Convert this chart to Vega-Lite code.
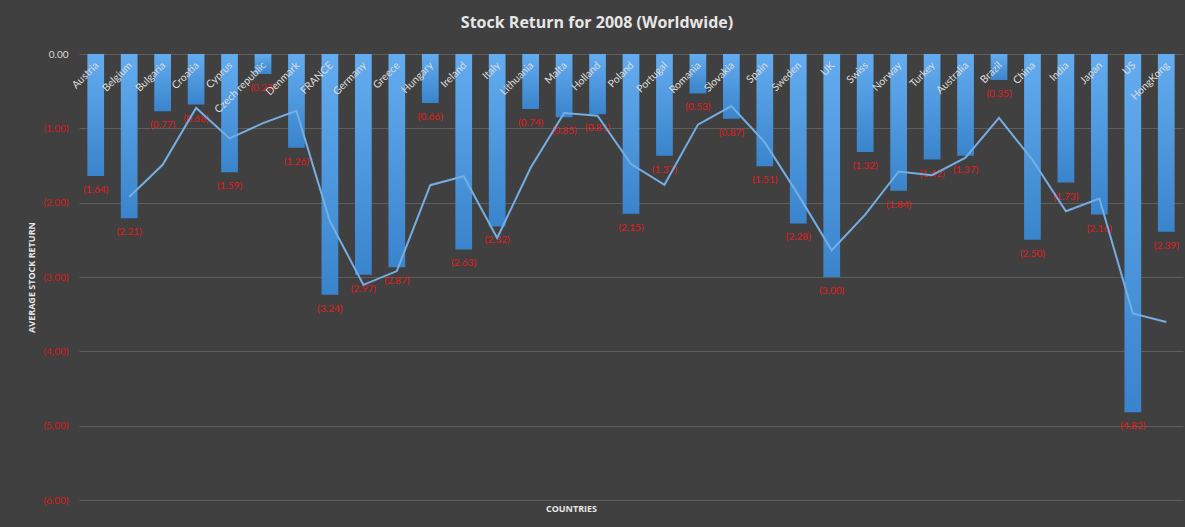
{
  "$schema": "https://vega.github.io/schema/vega-lite/v6.json",
  "width": 1104,
  "height": 446,
  "autosize": {"type": "none"},
  "padding": {"left": 79, "top": 54, "right": 2, "bottom": 27},
  "background": "#404040",
  "config": {"view": {"stroke": null}},
  "title": {
    "text": "Stock Return for 2008 (Worldwide)",
    "font": "Open Sans",
    "fontSize": 16,
    "fontWeight": "bold",
    "color": "#e6e6e6",
    "anchor": "middle",
    "dx": -34,
    "offset": 18
  },
  "data": {
    "values": [
      {"country": "Austria", "ret": -1.64, "avg": null},
      {"country": "Belgium", "ret": -2.21, "avg": -1.925},
      {"country": "Bulgaria", "ret": -0.77, "avg": -1.49},
      {"country": "Croatia", "ret": -0.68, "avg": -0.725},
      {"country": "Cyprus", "ret": -1.59, "avg": -1.135},
      {"country": "Czech republic", "ret": -0.27, "avg": -0.93},
      {"country": "Denmark", "ret": -1.26, "avg": -0.765},
      {"country": "FRANCE", "ret": -3.24, "avg": -2.25},
      {"country": "Germany", "ret": -2.97, "avg": -3.105},
      {"country": "Greece", "ret": -2.87, "avg": -2.92},
      {"country": "Hungary", "ret": -0.66, "avg": -1.765},
      {"country": "Ireland", "ret": -2.63, "avg": -1.645},
      {"country": "Italy", "ret": -2.32, "avg": -2.475},
      {"country": "Lithuania", "ret": -0.74, "avg": -1.53},
      {"country": "Malta", "ret": -0.85, "avg": -0.795},
      {"country": "Holland", "ret": -0.81, "avg": -0.83},
      {"country": "Poland", "ret": -2.15, "avg": -1.48},
      {"country": "Portugal", "ret": -1.37, "avg": -1.76},
      {"country": "Romania", "ret": -0.53, "avg": -0.95},
      {"country": "Slovakia", "ret": -0.87, "avg": -0.7},
      {"country": "Spain", "ret": -1.51, "avg": -1.19},
      {"country": "Sweden", "ret": -2.28, "avg": -1.895},
      {"country": "UK", "ret": -3.0, "avg": -2.64},
      {"country": "Swiss", "ret": -1.32, "avg": -2.16},
      {"country": "Norway", "ret": -1.84, "avg": -1.58},
      {"country": "Turkey", "ret": -1.42, "avg": -1.63},
      {"country": "Australia", "ret": -1.37, "avg": -1.395},
      {"country": "Brazil", "ret": -0.35, "avg": -0.86},
      {"country": "China", "ret": -2.5, "avg": -1.425},
      {"country": "India", "ret": -1.73, "avg": -2.115},
      {"country": "Japan", "ret": -2.16, "avg": -1.945},
      {"country": "US", "ret": -4.82, "avg": -3.49},
      {"country": "HongKong", "ret": -2.39, "avg": -3.605}
    ]
  },
  "transform": [
    {"calculate": "'(' + format(-datum.ret, '.2f') + ')'", "as": "label"}
  ],
  "encoding": {
    "x": {
      "field": "country",
      "type": "nominal",
      "sort": null,
      "scale": {"paddingInner": 0.5, "paddingOuter": 0.25},
      "axis": {
        "labels": false,
        "ticks": false,
        "domain": false,
        "title": "COUNTRIES",
        "titleFont": "Open Sans",
        "titleFontSize": 9,
        "titleFontWeight": "bold",
        "titleColor": "#e6e6e6",
        "titlePadding": 4,
        "titleX": 492
      }
    }
  },
  "layer": [
    {
      "mark": {
        "type": "bar",
        "fill": {
          "gradient": "linear",
          "x1": 0, "y1": 0, "x2": 0, "y2": 1,
          "stops": [
            {"offset": 0, "color": "#63acef"},
            {"offset": 1, "color": "#3a84cc"}
          ]
        }
      },
      "encoding": {
        "y": {
          "field": "ret",
          "type": "quantitative",
          "scale": {"domain": [-6, 0], "nice": false},
          "axis": {
            "values": [0, -1, -2, -3, -4, -5, -6],
            "labelExpr": "datum.value < 0 ? '(' + format(-datum.value, '.2f') + ')' : format(datum.value, '.2f')",
            "labelColor": {"condition": {"test": "datum.value < 0", "value": "#d7191c"}, "value": "#d9d9d9"},
            "labelFont": "Lato",
            "labelFontSize": 10,
            "labelPadding": 11,
            "ticks": false,
            "domain": false,
            "grid": true,
            "gridColor": "#5e5e5e",
            "gridWidth": 1,
            "title": "AVERAGE STOCK RETURN",
            "titleFont": "Open Sans",
            "titleFontSize": 9,
            "titleFontWeight": "bold",
            "titleColor": "#e6e6e6",
            "titlePadding": 6
          }
        }
      }
    },
    {
      "mark": {"type": "rule", "color": "#8f8f8f", "strokeWidth": 1},
      "encoding": {"y": {"datum": 0}}
    },
    {
      "mark": {
        "type": "text",
        "color": "#e31a1c",
        "font": "Lato",
        "fontSize": 10,
        "baseline": "middle",
        "dy": 14
      },
      "encoding": {
        "y": {"field": "ret", "type": "quantitative"},
        "text": {"field": "label"}
      }
    },
    {
      "mark": {
        "type": "text",
        "color": "#dcdcdc",
        "font": "Lato",
        "fontSize": 10.5,
        "angle": 315,
        "align": "right",
        "baseline": "middle",
        "dx": -6,
        "dy": 8
      },
      "encoding": {
        "y": {"datum": 0},
        "text": {"field": "country"}
      }
    },
    {
      "mark": {"type": "line", "color": "#74aee3", "strokeWidth": 2},
      "encoding": {
        "y": {"field": "avg", "type": "quantitative"}
      }
    }
  ]
}
